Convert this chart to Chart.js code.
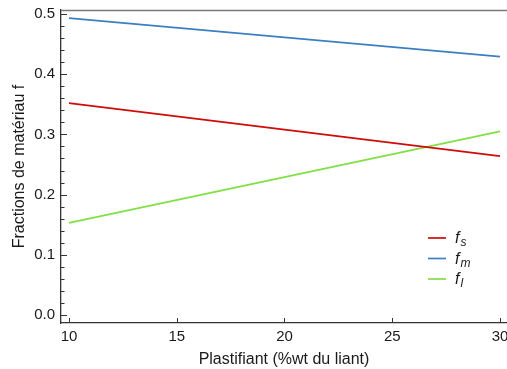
<!DOCTYPE html>
<html>
<head>
<meta charset="utf-8">
<script src="https://cdn.jsdelivr.net/npm/chart.js@4"></script>
<style>
  html, body { margin: 0; padding: 0; background: #fff; }
  #wrap { width: 507px; height: 369px; }
</style>
</head>
<body>
<div id="wrap"><canvas id="myChart" width="507" height="369"></canvas></div>
<script>
// values
const plastifiant = [10, 30];
const fS = [0.352, 0.264];
const fM = [0.493, 0.429];
const fL = [0.153, 0.305];
const seriesNames = ['f_s', 'f_m', 'f_l'];
const seriesColors = ['#d10a0a', '#3b7fc2', '#80e046'];
const yTickValues = [0, 0.1, 0.2, 0.3, 0.4, 0.5];
const xTickValues = [10, 15, 20, 25, 30];

function toPoints(xs, ys) {
    return xs.map(function (x, i) { return {x: x, y: ys[i]}; });
}

const data = {
    datasets: [fS, fM, fL].map(function (vals, i) {
        return {
            label: seriesNames[i],
            data: toPoints(plastifiant, vals),
            borderColor: seriesColors[i],
            backgroundColor: seriesColors[i],
            borderWidth: 1.7,
            pointRadius: 0,
            fill: false
        };
    })
};

// inward ticks, top frame line and the little legend with subscripts
const framePlugin = {
    id: 'frame',
    afterDraw: function (chart) {
        const ctx = chart.ctx;
        const area = chart.chartArea;
        const xs = chart.scales.x;
        const ys = chart.scales.y;
        ctx.save();
        ctx.strokeStyle = '#7a7a7a';
        ctx.lineWidth = 1.3;
        ctx.beginPath();
        ctx.moveTo(area.left, area.top + 0.5);
        ctx.lineTo(area.right, area.top + 0.5);
        ctx.stroke();

        ctx.strokeStyle = '#333';
        ctx.lineWidth = 1;
        for (let k = 0; k <= 25; k++) {
            const v = k * 0.02;
            const py = Math.round(ys.getPixelForValue(v)) + 0.5;
            const len = (k % 5 === 0) ? 6 : 3.5;
            ctx.beginPath();
            ctx.moveTo(area.left, py);
            ctx.lineTo(area.left + len, py);
            ctx.stroke();
        }
        xTickValues.forEach(function (v) {
            const px = Math.round(xs.getPixelForValue(v)) + 0.5;
            ctx.beginPath();
            ctx.moveTo(px, area.bottom);
            ctx.lineTo(px, area.bottom - 5);
            ctx.stroke();
        });

        // legend
        let ly = 238;
        chart.data.datasets.forEach(function (ds) {
            const parts = ds.label.split('_');
            ctx.strokeStyle = ds.borderColor;
            ctx.lineWidth = 1.7;
            ctx.beginPath();
            ctx.moveTo(428, ly);
            ctx.lineTo(446, ly);
            ctx.stroke();
            ctx.fillStyle = '#1a1a1a';
            ctx.textBaseline = 'alphabetic';
            ctx.font = 'italic 16px "Liberation Sans", Arial, sans-serif';
            ctx.fillText(parts[0], 455, ly + 5);
            const w = ctx.measureText(parts[0]).width;
            ctx.font = 'italic 12px "Liberation Sans", Arial, sans-serif';
            ctx.fillText(parts[1], 455 + w + 1, ly + 8);
            ly += 20.5;
        });
        ctx.restore();
    }
};

const config = {
    type: 'line',
    data: data,
    options: {
        responsive: false,
        animation: false,
        layout: { padding: { top: 10, right: 0, left: 0, bottom: 0 } },
        plugins: {
            legend: { display: false },
            tooltip: { enabled: false }
        },
        scales: {
            x: {
                type: 'linear',
                min: 9.629,
                max: 30.325,
                afterBuildTicks: function (scale) {
                    scale.ticks = xTickValues.map(function (v) { return {value: v}; });
                },
                afterFit: function (scale) {
                    scale.height = 46;
                    scale.paddingLeft = 0;
                    scale.paddingRight = 0;
                },
                grid: { display: false, drawTicks: false },
                border: { display: true, color: '#333', width: 1.3 },
                ticks: {
                    color: '#1a1a1a',
                    padding: 5,
                    maxRotation: 0,
                    font: { family: '"Liberation Sans", Arial, sans-serif', size: 15 },
                    callback: function (v) { return v.toString(); }
                },
                title: {
                    display: true,
                    text: 'Plastifiant (%wt du liant)',
                    color: '#1a1a1a',
                    padding: { top: 5, bottom: 0 },
                    font: { family: '"Liberation Sans", Arial, sans-serif', size: 16 }
                }
            },
            y: {
                type: 'linear',
                min: -0.0133,
                max: 0.5066,
                afterBuildTicks: function (scale) {
                    scale.ticks = yTickValues.map(function (v) { return {value: v}; });
                },
                afterFit: function (scale) {
                    scale.width = 61;
                    scale.paddingTop = 0;
                    scale.paddingBottom = 0;
                },
                grid: { display: false, drawTicks: false },
                border: { display: true, color: '#333', width: 1.3 },
                ticks: {
                    color: '#1a1a1a',
                    padding: 6,
                    font: { family: '"Liberation Sans", Arial, sans-serif', size: 15 },
                    callback: function (v) { return v.toFixed(1); }
                },
                title: {
                    display: true,
                    text: 'Fractions de matériau f',
                    color: '#1a1a1a',
                    padding: { top: 10, bottom: 0 },
                    font: { family: '"Liberation Sans", Arial, sans-serif', size: 16 }
                }
            }
        }
    },
    plugins: [framePlugin]
};

const myChart = new Chart(document.getElementById('myChart').getContext('2d'), config);
</script>
</body>
</html>
